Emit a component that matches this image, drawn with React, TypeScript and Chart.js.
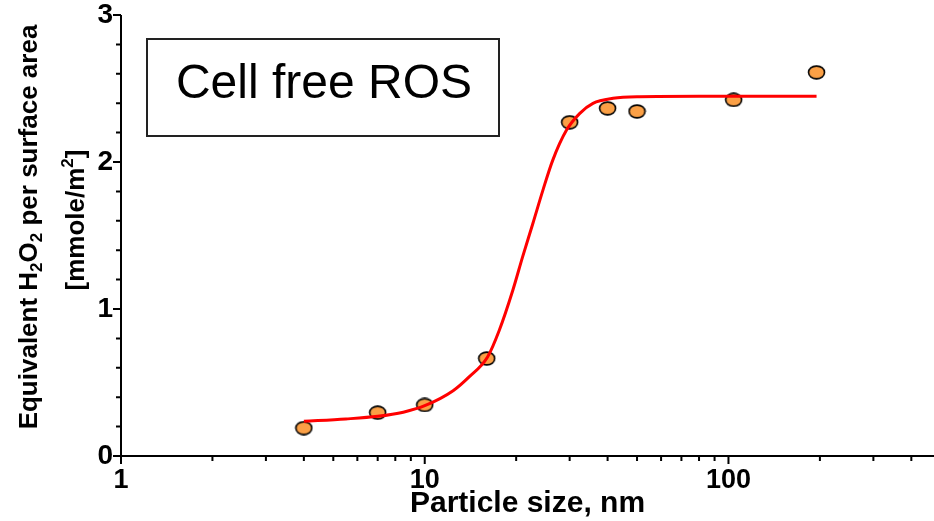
import { useEffect, useRef } from "react";
import { Chart, registerables } from "chart.js";

Chart.register(...registerables);

// measured particles
const particleSizes = [4, 7, 10, 16, 30, 40, 50, 104, 195];
const rosValues = [0.19, 0.295, 0.347, 0.663, 2.27, 2.365, 2.344, 2.423, 2.61];

// fitted curve
const fitSizes = [4, 5.5, 7, 8.5, 10, 12.4, 14, 16.1, 17.6, 19.5, 21, 22.7, 24.5, 26.4, 29.3, 32.4, 35.8, 41.7, 51, 80, 195];
const fitValues = [0.236, 0.252, 0.27, 0.298, 0.342, 0.444, 0.538, 0.674, 0.856, 1.128, 1.355, 1.582, 1.809, 2.013, 2.217, 2.331, 2.399, 2.433, 2.444, 2.447, 2.447];

const xTickLabels = [1, 10, 100];
const yTickLabels = [0, 1, 2, 3];
const panelTitle = "Cell free ROS";
const xTitle = "Particle size, nm";
const yTitleLine1 = [
  { t: "Equivalent H", k: "n" },
  { t: "2", k: "sub" },
  { t: "O", k: "n" },
  { t: "2", k: "sub" },
  { t: " per surface area", k: "n" },
];
const yTitleLine2 = [
  { t: "[mmole/m", k: "n" },
  { t: "2", k: "sup" },
  { t: "]", k: "n" },
];

const FONT = "'Liberation Sans', Arial, sans-serif";

function makeMarker(): HTMLCanvasElement {
  const c = document.createElement("canvas");
  c.width = 19;
  c.height = 15;
  const g = c.getContext("2d")!;
  g.beginPath();
  g.ellipse(9.5, 7.5, 8, 6.4, 0, 0, Math.PI * 2);
  g.fillStyle = "#FBA046";
  g.fill();
  g.lineWidth = 1.6;
  g.strokeStyle = "#000";
  g.stroke();
  return c;
}

function drawRich(ctx: CanvasRenderingContext2D, segs: { t: string; k: string }[], size: number) {
  const small = Math.round(size * 0.66);
  const fontFor = (k: string) => `bold ${k === "n" ? size : small}px ${FONT}`;
  let total = 0;
  for (const s of segs) {
    ctx.font = fontFor(s.k);
    total += ctx.measureText(s.t).width;
  }
  let x = -total / 2;
  for (const s of segs) {
    ctx.font = fontFor(s.k);
    const dy = s.k === "sub" ? size * 0.2 : s.k === "sup" ? -size * 0.42 : 0;
    ctx.fillText(s.t, x, dy);
    x += ctx.measureText(s.t).width;
  }
}

const decorPlugin = {
  id: "decor",
  afterDraw(chart: any) {
    const ctx: CanvasRenderingContext2D = chart.ctx;
    const xs = chart.scales.x;
    const ys = chart.scales.y;
    const { left, right, top, bottom } = chart.chartArea;
    ctx.save();
    ctx.strokeStyle = "#000";
    ctx.fillStyle = "#000";
    ctx.lineWidth = 2;
    ctx.lineCap = "butt";
    // axes
    ctx.beginPath();
    ctx.moveTo(left, top);
    ctx.lineTo(left, bottom + 1);
    ctx.moveTo(left - 1, bottom);
    ctx.lineTo(right, bottom);
    ctx.stroke();
    // y ticks
    ctx.beginPath();
    for (const t of ys.ticks) {
      const py = ys.getPixelForValue(t.value);
      const major = yTickLabels.some((v) => Math.abs(v - t.value) < 1e-6);
      const len = major ? 8 : 5;
      ctx.moveTo(left - len, py);
      ctx.lineTo(left, py);
    }
    // x ticks
    for (const t of xs.ticks) {
      const v = t.value;
      const e = Math.floor(Math.log10(v) + 1e-9);
      const m = v / Math.pow(10, e);
      if (Math.abs(m - Math.round(m)) > 1e-6) continue;
      const px = xs.getPixelForValue(v);
      const major = xTickLabels.some((q) => Math.abs(q - v) < 1e-6);
      const len = major ? 8 : 5;
      ctx.moveTo(px, bottom);
      ctx.lineTo(px, bottom + len);
    }
    ctx.stroke();

    // panel label box
    ctx.lineWidth = 2;
    ctx.strokeStyle = "#222";
    ctx.strokeRect(147, 39, 352, 97);
    ctx.fillStyle = "#000";
    ctx.font = `48px ${FONT}`;
    ctx.textAlign = "center";
    ctx.textBaseline = "alphabetic";
    ctx.fillText(panelTitle, 324, 98);

    // y title (rotated)
    ctx.textAlign = "left";
    ctx.save();
    ctx.translate(37, 227);
    ctx.rotate(-Math.PI / 2);
    drawRich(ctx, yTitleLine1, 26);
    ctx.restore();
    ctx.save();
    ctx.translate(84, 220);
    ctx.rotate(-Math.PI / 2);
    drawRich(ctx, yTitleLine2, 26);
    ctx.restore();
    ctx.restore();
  },
};

export default function App() {
  const ref = useRef<HTMLCanvasElement | null>(null);
  useEffect(() => {
    if (!ref.current) return;
    const marker = makeMarker();
    const chart = new Chart(ref.current, {
      type: "scatter",
      data: {
        datasets: [
          {
            type: "line",
            label: "fit",
            data: fitSizes.map((x, i) => ({ x, y: fitValues[i] })),
            borderColor: "#FF0000",
            borderWidth: 3,
            pointRadius: 0,
            fill: false,
            cubicInterpolationMode: "monotone",
            order: 0,
          } as any,
          {
            type: "scatter",
            label: "data",
            data: particleSizes.map((x, i) => ({ x, y: rosValues[i] })),
            pointStyle: marker as any,
            pointRadius: 8,
            order: 1,
          } as any,
        ],
      },
      options: {
        animation: false,
        responsive: true,
        maintainAspectRatio: false,
        layout: { autoPadding: false, padding: { top: 15, right: 0, bottom: 0, left: 0 } },
        plugins: { legend: { display: false }, tooltip: { enabled: false } },
        scales: {
          x: {
            type: "logarithmic",
            position: "bottom",
            min: 1,
            max: 475,
            grid: { display: false, drawTicks: true, tickLength: 9 },
            border: { display: false },
            ticks: {
              autoSkip: false,
              maxRotation: 0,
              padding: 2,
              color: "#000",
              font: { family: FONT, size: 27, weight: "bold", lineHeight: 1 },
              callback: (v: any) => (xTickLabels.some((q) => Math.abs(q - Number(v)) < 1e-6) ? String(Number(v)) : ""),
            },
            title: {
              display: true,
              text: xTitle,
              color: "#000",
              font: { family: FONT, size: 30, weight: "bold", lineHeight: 1 },
              padding: { top: 0, bottom: 2 },
            },
            afterFit: (s: any) => {
              s.height = 65;
              s.paddingRight = 0;
              s.paddingLeft = 0;
            },
          },
          y: {
            type: "linear",
            min: 0,
            max: 3,
            grid: { display: false, drawTicks: true, tickLength: 7 },
            border: { display: false },
            ticks: {
              stepSize: 0.2,
              autoSkip: false,
              padding: 1,
              color: "#000",
              font: { family: FONT, size: 28, weight: "bold", lineHeight: 1 },
              callback: (v: any) => (yTickLabels.some((q) => Math.abs(q - Number(v)) < 1e-6) ? String(Math.round(Number(v))) : ""),
            },
            afterFit: (s: any) => {
              s.width = 121;
              s.paddingTop = 0;
              s.paddingBottom = 0;
            },
          },
        },
      },
      plugins: [decorPlugin],
    });
    return () => chart.destroy();
  }, []);
  return (
    <div style={{ position: "absolute", left: 0, top: 0, width: 934, height: 521, background: "#fff" }}>
      <canvas ref={ref} />
    </div>
  );
}
